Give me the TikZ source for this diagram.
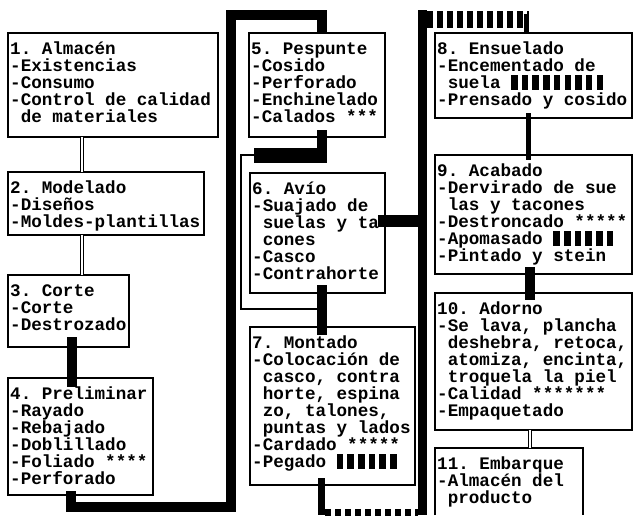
\documentclass[tikz,border=0pt]{standalone}
\usepackage{fontspec}
\setmonofont{Liberation Mono}
\newcommand\barmark{\rule[-2pt]{6.5pt}{15pt}\hspace{4.18pt}}
\newcommand\padch{\hphantom{-}}
\begin{document}
\begin{tikzpicture}[x=1pt,y=-1pt,
  box/.style={draw, line width=1.3pt, inner sep=0pt, outer sep=0pt, anchor=north west},
  txt/.style={anchor=north west, inner sep=0pt, align=left,
    font=\ttfamily\bfseries\fontsize{17.6}{17}\selectfont, xshift=2pt, yshift=-8pt},
  heavy/.style={draw, line width=10pt, line cap=butt, line join=miter},
  thinl/.style={draw, line width=1.3pt},
  dbl/.style={draw, line width=0.9pt, double, double distance=2.6pt},
  dots/.style={dash pattern=on 6pt off 4pt}]
\useasboundingbox (0,0) rectangle (633,515);

% boxes
\node[box, minimum width=210pt, minimum height=104pt] (b1) at (8,33) {};
\node[box, minimum width=196pt, minimum height=63pt] (b2) at (8,172) {};
\node[box, minimum width=121pt, minimum height=72pt] (b3) at (8,275) {};
\node[box, minimum width=145pt, minimum height=117pt] (b4) at (8,378) {};
\node[box, minimum width=136pt, minimum height=104pt] (b5) at (249,33) {};
\node[box, minimum width=135pt, minimum height=120pt] (b6) at (250,173) {};
\node[box, minimum width=165pt, minimum height=158pt] (b7) at (250,327) {};
\node[box, minimum width=197pt, minimum height=85pt] (b8) at (435,33) {};
\node[box, minimum width=197pt, minimum height=119pt] (b9) at (435,155) {};
\node[box, minimum width=197pt, minimum height=137pt] (b10) at (435,293) {};
\node[box, draw=none, minimum width=148pt, minimum height=67pt] (b11) at (435,448) {};
\draw[thinl] (b11.south west) -- (b11.north west) -- (b11.north east) -- (b11.south east);

% coordinates for connector bends
\coordinate (kA) at (231,507);
\coordinate (kB) at (231,15);
\coordinate (kC) at (254,155);
\coordinate (kD) at (327,155);
\coordinate (kE) at (241,309);
\coordinate (kF) at (318,309);
\coordinate (kG) at (427,221);
\coordinate (kH) at (321,515);
\coordinate (kI) at (325,512);
\coordinate (kJ) at (418,512);
\coordinate (kK) at (422,515);
\coordinate (kL) at (422,10);
\coordinate (kM) at (427,19);
\coordinate (kN) at (529,19);
\coordinate (kP) at (526,14);

% connectors
\draw[dbl] ([xshift=74pt]b1.south west) -- ([xshift=74pt]b2.north west);
\draw[dbl] ([xshift=74pt]b2.south west) -- ([xshift=74pt]b3.north west);
\draw[heavy] ([xshift=64pt,yshift=10pt]b3.south west) -- ([xshift=64pt,yshift=-9pt]b4.north west);
\draw[heavy] ([xshift=63pt,yshift=4pt]b4.south west) |- (kA) -- (kB) -| ([xshift=73pt]b5.north west);
\draw[heavy] ([xshift=73pt,yshift=7pt]b5.south west) |- (kC);
\draw[heavy, line width=15pt] (kC) -- (kD);
\draw[thinl] (kC) -| (kE) -- (kF);
\draw[heavy] ([xshift=72pt,yshift=8pt]b6.south west) -- ([xshift=72pt,yshift=-8pt]b7.north west);
\draw[heavy, line width=12pt] ([xshift=-7pt,yshift=12pt]b6.east) -- (kG);
\draw[heavy, line width=7pt] ([xshift=71pt,yshift=7pt]b7.south west) -- (kH);
\draw[heavy, line width=7pt, dots] (kI) -- (kJ);
\draw[heavy, line width=9pt] (kK) -- (kL);
\draw[heavy, line width=17pt, dots] (kM) -- (kN);
\draw[heavy, line width=5pt] (kP) -- ([xshift=91pt]b8.north west);
\draw[heavy, line width=5pt] ([xshift=93pt,yshift=5pt]b8.south west) -- ([xshift=93pt,yshift=-5pt]b9.north west);
\draw[heavy] ([xshift=95pt,yshift=7pt]b9.south west) -- ([xshift=95pt,yshift=-7pt]b10.north west);
\draw[dbl] ([xshift=95pt]b10.south west) -- ([xshift=95pt]b11.north west);

% texts
\node[txt] (t1) at (b1.north west) {\rule{0pt}{13pt}1. Almacén\\-Existencias\\-Consumo\\-Control de calidad\\\padch de materiales};
\node[txt] (t2) at (b2.north west) {\rule{0pt}{13pt}2. Modelado\\-Diseños\\-Moldes-plantillas};
\node[txt] (t3) at (b3.north west) {\rule{0pt}{13pt}3. Corte\\-Corte\\-Destrozado};
\node[txt] (t4) at (b4.north west) {\rule{0pt}{13pt}4. Preliminar\\-Rayado\\-Rebajado\\-Doblillado\\-Foliado ****\\-Perforado};
\node[txt] (t5) at (b5.north west) {\rule{0pt}{13pt}5. Pespunte\\-Cosido\\-Perforado\\-Enchinelado\\-Calados ***};
\node[txt] (t6) at (b6.north west) {\rule{0pt}{13pt}6. Avío\\-Suajado de\\\padch suelas y ta\\\padch cones\\-Casco\\-Contrahorte};
\node[txt] (t7) at (b7.north west) {\rule{0pt}{13pt}7. Montado\\-Colocación de\\\padch casco, contra\\\padch horte, espina\\\padch zo, talones,\\\padch puntas y lados\\-Cardado *****\\-Pegado \barmark\barmark\barmark\barmark\barmark\barmark};
\node[txt] (t8) at (b8.north west) {\rule{0pt}{13pt}8. Ensuelado\\-Encementado de\\\padch suela \barmark\barmark\barmark\barmark\barmark\barmark\barmark\barmark\barmark\\-Prensado y cosido};
\node[txt] (t9) at (b9.north west) {\rule{0pt}{13pt}9. Acabado\\-Dervirado de sue\\\padch las y tacones\\-Destroncado *****\\-Apomasado \barmark\barmark\barmark\barmark\barmark\barmark\\-Pintado y stein};
\node[txt] (t10) at (b10.north west) {\rule{0pt}{13pt}10. Adorno\\-Se lava, plancha\\\padch deshebra, retoca,\\\padch atomiza, encinta,\\\padch troquela la piel\\-Calidad *******\\-Empaquetado};
\node[txt] (t11) at (b11.north west) {\rule{0pt}{13pt}11. Embarque\\-Almacén del\\\padch producto};
\end{tikzpicture}
\end{document}
